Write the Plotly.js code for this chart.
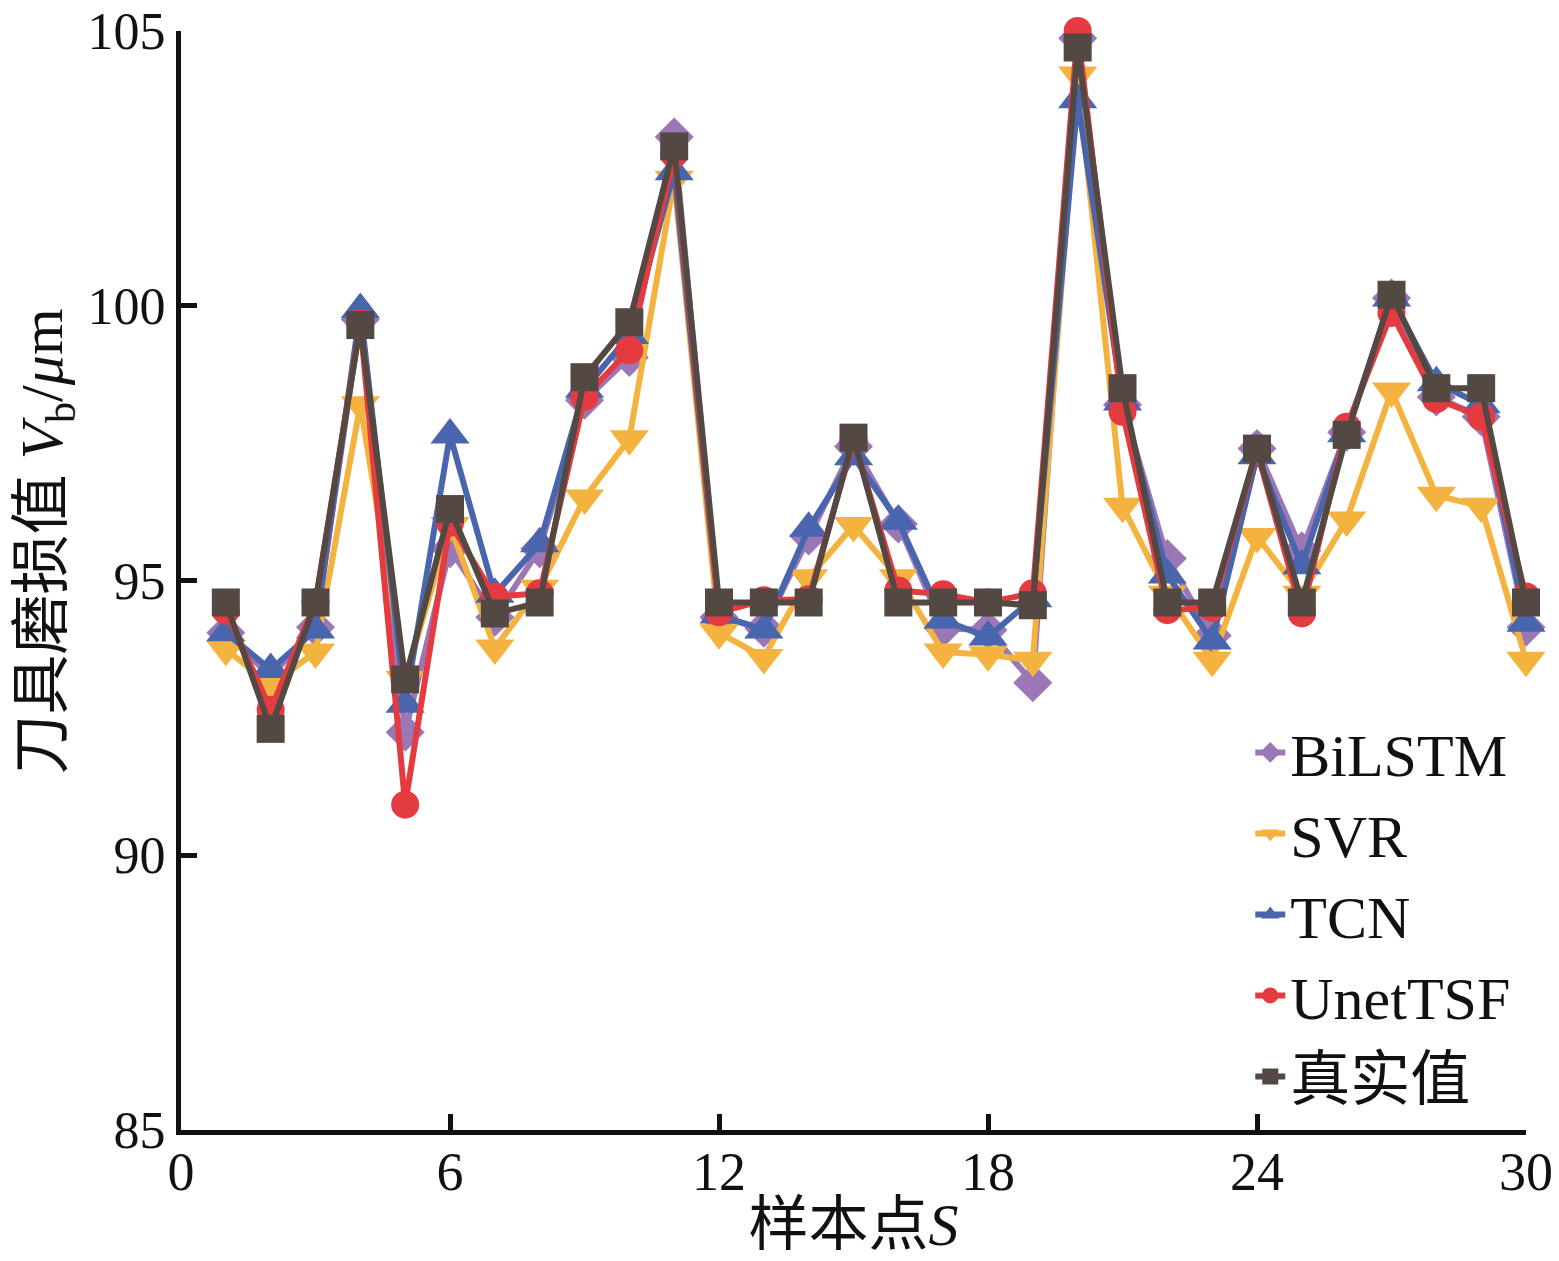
<!DOCTYPE html>
<html>
<head>
<meta charset="utf-8">
<script src="https://cdn.plot.ly/plotly-3.0.1.min.js"></script>
<style>html,body{margin:0;padding:0;background:#fff;}#chart{width:1559px;height:1261px;}</style>
</head>
<body>
<div id="chart"></div>
<script>
var samples = [1,2,3,4,5,6,7,8,9,10,11,12,13,14,15,16,17,18,19,20,21,22,23,24,25,26,27,28,29,30];
var bilstm = [94.05,93.25,94.15,99.75,92.24,95.58,94.33,95.58,98.28,99.06,103.07,94.33,94.13,95.81,97.44,96.03,94.13,94.1,93.14,104.87,98.2,95.4,94.0,97.4,95.54,97.7,100.14,98.34,97.98,94.15];
var svr = [93.75,93.1,93.7,98.2,93.2,96.0,93.77,94.86,96.5,97.58,102.3,94.05,93.6,95.05,96.0,95.05,93.7,93.65,93.55,104.2,96.35,94.75,93.55,95.8,94.75,96.1,98.45,96.55,96.35,93.55];
var tcn = [94.05,93.38,94.1,99.93,92.75,97.65,94.75,95.67,98.48,99.46,102.44,94.37,94.1,95.95,97.25,96.08,94.28,93.97,94.67,103.75,98.25,95.1,93.9,97.27,95.27,97.67,100.14,98.6,98.2,94.22];
var unet = [94.45,92.65,94.6,99.68,90.92,96.05,94.7,94.77,98.34,99.19,102.76,94.42,94.64,94.66,97.55,94.82,94.75,94.6,94.77,105.0,98.07,94.46,94.5,97.36,94.4,97.8,99.87,98.3,97.98,94.71];
var truth = [94.6,92.3,94.6,99.65,93.2,96.3,94.4,94.6,98.7,99.7,102.9,94.6,94.6,94.6,97.6,94.6,94.6,94.6,94.55,104.7,98.5,94.6,94.6,97.4,94.6,97.65,100.2,98.5,98.5,94.6];
var seriesNames = ['BiLSTM','SVR','TCN','UnetTSF','真实值'];
var xTicks = [0,6,12,18,24,30];
var yTicks = [85,90,95,100,105];
var xTitle = '样本点<i>S</i>';
var yTitle = '刀具磨损值 <i>V</i><sub>b</sub>/<i>μ</i>m';

var colors = ['#9b77b6','#f3b33e','#4865ad','#e33b40','#544842'];
var symbols = ['diamond','triangle-down','triangle-up','circle','square'];
var sizes = [30,34,34,28,28];
var data = [bilstm, svr, tcn, unet, truth];
var FONT = 'Liberation Serif, Times New Roman, Noto Sans CJK SC, serif';

var traces = data.map(function(vals, i){
  return {
    x: samples, y: vals, name: seriesNames[i], type: 'scatter', mode: 'lines+markers',
    cliponaxis: false,
    line: {color: colors[i], width: 6},
    marker: {color: colors[i], symbol: symbols[i], size: sizes[i], line: {width: 0}}
  };
});

var layout = {
  width: 1559, height: 1261,
  paper_bgcolor: '#ffffff', plot_bgcolor: '#ffffff',
  margin: {l: 181, r: 33, t: 31, b: 131},
  font: {family: FONT, color: '#111111', size: 50},
  showlegend: true,
  legend: {
    x: 0.795, y: 0.385, xanchor: 'left', yanchor: 'top',
    bgcolor: 'rgba(0,0,0,0)', borderwidth: 0,
    font: {family: FONT, size: 60, color: '#111111'},
    tracegroupgap: 0
  },
  xaxis: {
    range: [0, 30], tickmode: 'array', tickvals: xTicks, ticktext: xTicks.map(String),
    ticks: 'inside', ticklen: 16, tickwidth: 5, tickcolor: '#111111',
    showline: true, linecolor: '#111111', linewidth: 5, mirror: false,
    showgrid: false, zeroline: false, ticklabeloverflow: 'allow', ticklabelstandoff: -10,
    tickfont: {family: FONT, size: 54, color: '#111111'},
    title: {text: xTitle, font: {family: FONT, size: 60, color: '#111111'}, standoff: 4}
  },
  yaxis: {
    range: [85, 105], tickmode: 'array', tickvals: yTicks, ticktext: yTicks.map(String),
    ticks: 'inside', ticklen: 16, tickwidth: 5, tickcolor: '#111111',
    showline: true, linecolor: '#111111', linewidth: 5, mirror: false,
    showgrid: false, zeroline: false, ticklabeloverflow: 'allow',
    tickfont: {family: FONT, size: 52, color: '#111111'}
  },
  annotations: [{
    text: yTitle, textangle: -90, showarrow: false,
    xref: 'paper', yref: 'paper', x: -0.1, y: 0.535, xanchor: 'center', yanchor: 'middle',
    font: {family: FONT, size: 60, color: '#111111'}
  }]
};

Plotly.newPlot('chart', traces, layout, {displayModeBar: false, staticPlot: true});
</script>
</body>
</html>
